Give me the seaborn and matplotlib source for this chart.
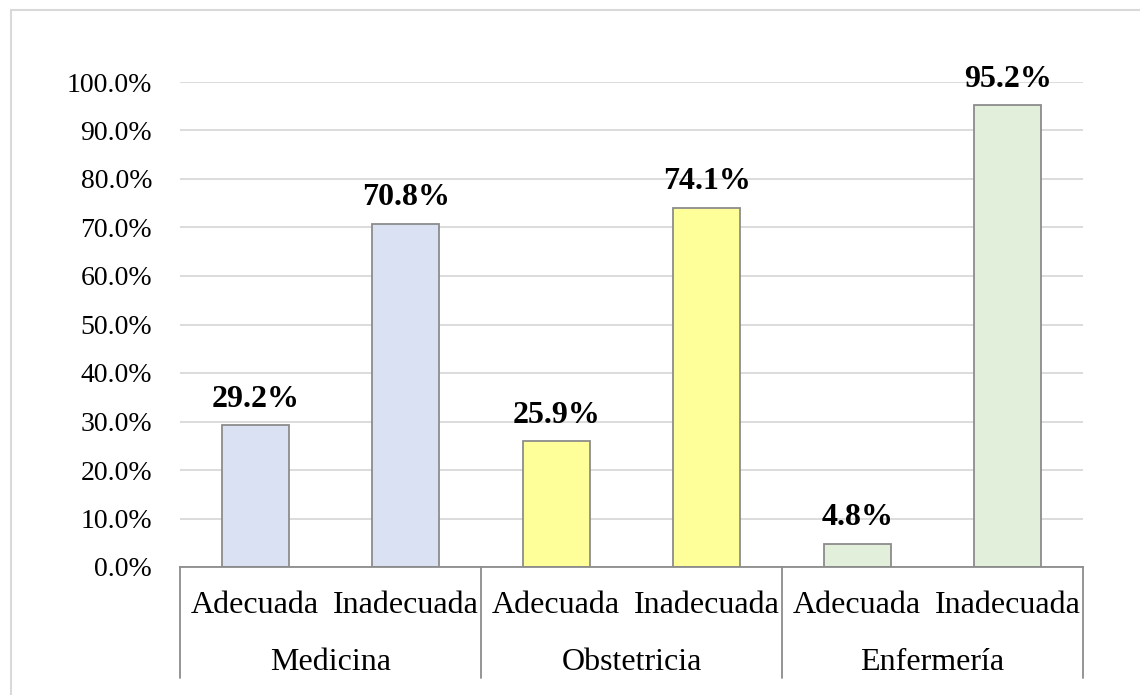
import matplotlib
matplotlib.use("Agg")
import matplotlib.pyplot as plt
import matplotlib.transforms as mtransforms
from matplotlib.patches import Rectangle
import seaborn as sns
import pandas as pd

# Data
groups = ["Medicina", "Obstetricia", "Enfermería"]
levels = ["Adecuada", "Inadecuada"]
medicina = [29.2, 70.8]
obstetricia = [25.9, 74.1]
enfermeria = [4.8, 95.2]
y_ticks = [0, 10, 20, 30, 40, 50, 60, 70, 80, 90, 100]

group_colors = {"Medicina": "#D9E1F2", "Obstetricia": "#FFFF99", "Enfermería": "#E2EFDA"}

rows = []
for g, vals in zip(groups, [medicina, obstetricia, enfermeria]):
    for lvl, v in zip(levels, vals):
        rows.append({"pos": f"{g}|{lvl}", "grupo": g, "nivel": lvl, "valor": v})
df = pd.DataFrame(rows)

sns.set_theme(style="white")
plt.rcParams["font.family"] = ["Liberation Serif", "DejaVu Serif"]

W, H = 1140, 695
fig = plt.figure(figsize=(W / 100, H / 100), dpi=100)
ax = fig.add_axes([180 / W, (H - 567) / H, (1083 - 180) / W, (567 - 82) / H])

sns.barplot(data=df, x="pos", y="valor", hue="grupo", palette=group_colors,
            dodge=False, width=0.445, saturation=1, edgecolor="#8C8C8C",
            linewidth=1.3, legend=False, ax=ax, zorder=3)

ax.set_xlim(-0.5, len(df) - 0.5)
ax.set_ylim(0, 100)
ax.set_yticks(y_ticks)
ax.set_yticklabels([f"{t:.1f}%" for t in y_ticks], fontsize=20, color="black")
ax.tick_params(axis="y", length=0, pad=20)
ax.set_xticks([])
ax.set_xlabel("")
ax.set_ylabel("")
ax.yaxis.grid(True, color="#D9D9D9", linewidth=1.3, zorder=0)
ax.set_axisbelow(True)

for side in ["top", "right", "left"]:
    ax.spines[side].set_visible(False)
ax.spines["bottom"].set_color("#8C8C8C")
ax.spines["bottom"].set_linewidth(1.3)
ax.spines["bottom"].set_zorder(4)

# Value labels above each bar
for patch, v in zip(ax.patches, df["valor"]):
    ax.annotate(f"{v:.1f}%", (patch.get_x() + patch.get_width() / 2, patch.get_height()),
                xytext=(0, 13.5), textcoords="offset points", ha="center", va="baseline",
                fontsize=23, fontweight="bold", color="black")

# Two-level category axis
trans = mtransforms.blended_transform_factory(ax.transData, ax.transAxes)
ax_h = 567 - 82
sub_y = -(613 - 567) / ax_h
grp_y = -(670 - 567) / ax_h
sep_bottom = -(678 - 567) / ax_h

for i, row in df.iterrows():
    ax.text(i, sub_y, row["nivel"], transform=trans, ha="center", va="baseline",
            fontsize=23, color="black")

n = len(levels)
for gi, g in enumerate(groups):
    center = gi * n + (n - 1) / 2
    ax.text(center, grp_y, g, transform=trans, ha="center", va="baseline",
            fontsize=23, color="black")

for k in range(len(groups) + 1):
    xs = k * n - 0.5
    ax.plot([xs, xs], [0, sep_bottom], transform=trans, color="#8C8C8C",
            linewidth=1.3, clip_on=False, zorder=4)

# Chart area border
fig.patches.append(Rectangle((11 / W, -0.05), 1.2, (H - 10) / H + 0.05,
                             transform=fig.transFigure, fill=False,
                             edgecolor="#D9D9D9", linewidth=1.5))

fig.savefig("out.png", dpi=100)
